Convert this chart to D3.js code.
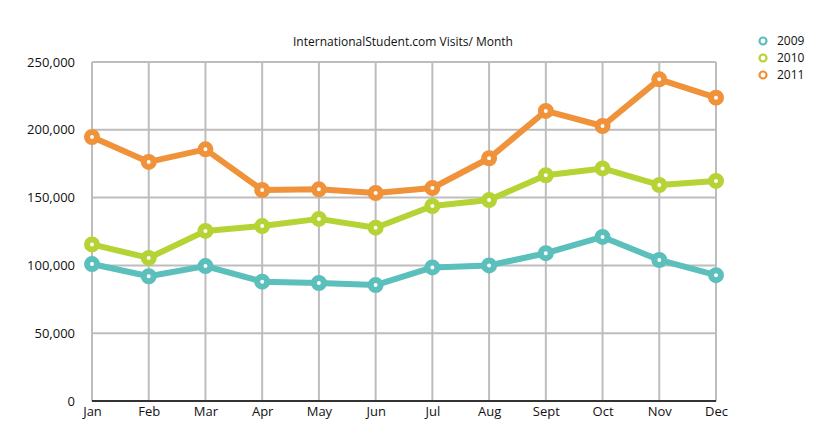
<!DOCTYPE html>
<html><head><meta charset="utf-8">
<script src="https://cdn.jsdelivr.net/npm/d3@7/dist/d3.min.js"></script>
<style>body{margin:0;background:#fff}svg{display:block}text{font-family:"Open Sans","DejaVu Sans",sans-serif;fill:#111}</style>
</head><body><svg id="c" width="835" height="436"></svg>
<script>
const months = ["Jan","Feb","Mar","Apr","May","Jun","Jul","Aug","Sept","Oct","Nov","Dec"];
const seriesNames = ["2009","2010","2011"];
const v2009 = [101000,92000,99500,88000,87000,85500,98500,100000,109000,121000,104000,92800];
const v2010 = [115500,105500,125400,129000,134300,127800,143800,148200,166500,171500,159300,162300];
const v2011 = [194700,176300,185600,155600,156100,153400,157100,179000,213900,202800,237200,223700];
const yTicks = [0,50000,100000,150000,200000,250000];
const colors = ["#5bbfbb","#b5d334","#f0923a"];
const title = "InternationalStudent.com Visits/ Month";

const svg = d3.select("#c");
const x = d3.scalePoint().domain(months).range([92,716]);
const y = d3.scaleLinear().domain([0,250000]).range([401,62]);

// grid
svg.append("g").selectAll("line").data(yTicks.slice(1)).join("line")
  .attr("x1",92).attr("x2",716).attr("y1",d=>y(d)).attr("y2",d=>y(d))
  .attr("stroke","#bdbdbd").attr("stroke-width",2);
svg.append("g").selectAll("line").data(months).join("line")
  .attr("x1",d=>x(d)).attr("x2",d=>x(d)).attr("y1",y(250000)).attr("y2",y(0))
  .attr("stroke","#bdbdbd").attr("stroke-width",2);
svg.append("line").attr("x1",92).attr("x2",716).attr("y1",y(0)).attr("y2",y(0))
  .attr("stroke","#333").attr("stroke-width",2);

// axes labels via d3 axes
const ya = svg.append("g").attr("transform","translate(92,0)")
  .call(d3.axisLeft(y).tickValues(yTicks).tickFormat(d3.format(",")).tickSize(0).tickPadding(17));
ya.select(".domain").remove();
ya.selectAll("text").style("font-size","13px").attr("dy","0.32em");
const xa = svg.append("g").attr("transform","translate(0,"+y(0)+")")
  .call(d3.axisBottom(x).tickSize(0).tickPadding(6));
xa.select(".domain").remove();
xa.selectAll("text").style("font-size","13px");

// title
svg.append("text").attr("x",403).attr("y",46).attr("text-anchor","middle")
  .style("font-size","12px").text(title);

const data = [v2009,v2010,v2011];
const line = d3.line().x((d,i)=>x(months[i])).y(d=>y(d));
data.forEach((vals,k)=>{
  svg.append("path").datum(vals).attr("d",line).attr("fill","none")
    .attr("stroke",colors[k]).attr("stroke-width",6).attr("stroke-linejoin","round");
});
data.forEach((vals,k)=>{
  svg.append("g").selectAll("circle").data(vals).join("circle")
    .attr("cx",(d,i)=>x(months[i])).attr("cy",d=>y(d)).attr("r",5)
    .attr("fill","#fff").attr("stroke",colors[k]).attr("stroke-width",6);
});

// legend
const lg = svg.append("g");
seriesNames.forEach((s,k)=>{
  const yy = 41 + k*17;
  lg.append("circle").attr("cx",763).attr("cy",yy).attr("r",3.5)
    .attr("fill","#fff").attr("stroke",colors[k]).attr("stroke-width",2.2);
  lg.append("text").attr("x",777).attr("y",yy).attr("dy","0.35em")
    .style("font-size","12px").text(s);
});
</script></body></html>
